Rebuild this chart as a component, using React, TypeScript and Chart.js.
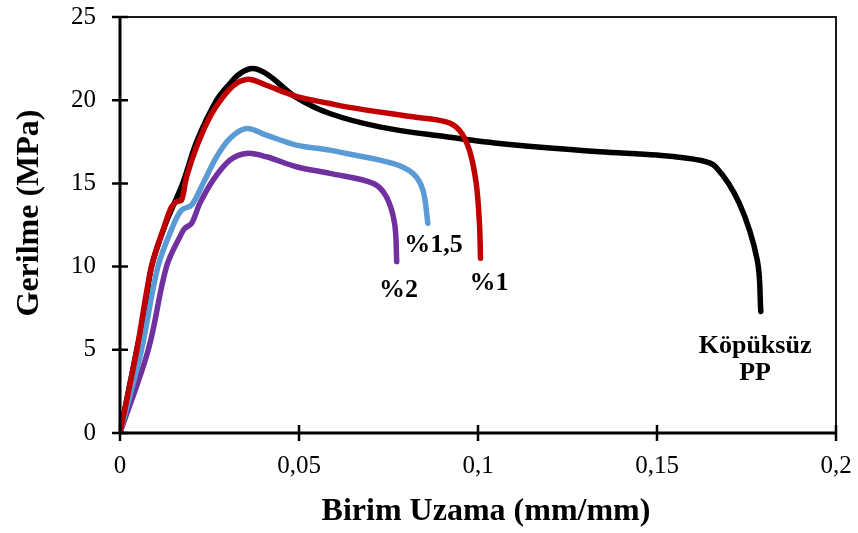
import { useEffect, useRef } from "react";
import { Chart, registerables } from "chart.js";

Chart.register(...registerables);

// ---- data (strain mm/mm, stress MPa) ----
const blackStrain = [0, 0.0047, 0.007, 0.0088, 0.0126, 0.0175, 0.0214, 0.027, 0.0307, 0.0335, 0.0372, 0.0415, 0.049, 0.0586, 0.0725, 0.0911, 0.106, 0.134, 0.15, 0.1618, 0.1664, 0.173, 0.178, 0.179];
const blackStress = [0, 5.0, 7.5, 10.0, 12.5, 15.0, 17.5, 20.0, 21.0, 21.6, 21.9, 21.5, 20.2, 19.2, 18.4, 17.8, 17.4, 16.9, 16.7, 16.4, 16.0, 13.8, 10.4, 7.3];

const redStrain = [0, 0.0047, 0.0088, 0.0125, 0.0144, 0.0158, 0.0172, 0.0186, 0.0214, 0.0251, 0.0288, 0.0325, 0.0363, 0.0409, 0.049, 0.0586, 0.0632, 0.0818, 0.0911, 0.0948, 0.0976, 0.0995, 0.1004, 0.1007];
const redStress = [0, 5.0, 10.0, 12.5, 13.6, 13.9, 14.0, 15.4, 17.2, 19.0, 20.2, 21.0, 21.25, 20.9, 20.25, 19.8, 19.6, 19.0, 18.7, 18.2, 17.0, 15.0, 12.6, 10.5];

const blueStrain = [0, 0.006, 0.0106, 0.0149, 0.0172, 0.02, 0.0232, 0.027, 0.0307, 0.0353, 0.0409, 0.0493, 0.0586, 0.0632, 0.0762, 0.0818, 0.0846, 0.086];
const blueStress = [0, 5.0, 10.0, 12.5, 13.4, 13.7, 15.0, 16.6, 17.7, 18.3, 17.9, 17.3, 17.0, 16.8, 16.2, 15.6, 14.6, 12.6];

const purpleStrain = [0, 0.0079, 0.013, 0.0172, 0.0181, 0.02, 0.0223, 0.026, 0.0307, 0.0353, 0.0409, 0.0493, 0.0586, 0.0707, 0.0744, 0.0767, 0.0773];
const purpleStress = [0, 5.0, 10.0, 12.0, 12.3, 12.6, 13.8, 15.2, 16.4, 16.8, 16.6, 16.0, 15.6, 15.0, 14.2, 12.6, 10.3];

const seriesNames = ["%1", "%1,5", "%2", "Köpüksüz PP"];

const xTickValues = [0, 0.05, 0.1, 0.15, 0.2];
const xTickLabels = ["0", "0,05", "0,1", "0,15", "0,2"];
const yTickValues = [0, 5, 10, 15, 20, 25];
const yTickLabels = ["0", "5", "10", "15", "20", "25"];

const xTitle = "Birim Uzama (mm/mm)";
const yTitle = "Gerilme (MPa)";

// curve annotations (text lines + anchor in data units)
const annoText = [["%1,5"], ["%2"], ["%1"], ["Köpüksüz", "PP"]];
const annoX = [0.0876, 0.0778, 0.1031, 0.1774];
const annoY = [11.3, 8.6, 9.0, 5.2];

const FONT = "'Liberation Serif', 'Times New Roman', serif";

function pts(xs: number[], ys: number[]) {
  return xs.map((x, i) => ({ x, y: ys[i] }));
}

const overlay = {
  id: "overlay",
  afterDraw(chart: any) {
    const ctx = chart.ctx;
    const { left, right, top, bottom } = chart.chartArea;
    const xs = chart.scales.x;
    const ys = chart.scales.y;
    ctx.save();
    // frame top/right
    ctx.strokeStyle = "#1a1a1a";
    ctx.lineWidth = 2;
    ctx.beginPath();
    ctx.moveTo(left, top);
    ctx.lineTo(right, top);
    ctx.lineTo(right, bottom);
    ctx.stroke();
    // axes
    ctx.strokeStyle = "#000";
    ctx.lineWidth = 3;
    ctx.beginPath();
    ctx.moveTo(left, top - 1);
    ctx.lineTo(left, bottom + 1.5);
    ctx.moveTo(left - 1.5, bottom);
    ctx.lineTo(right + 1, bottom);
    ctx.stroke();
    // ticks (cross)
    ctx.lineWidth = 2.5;
    ctx.beginPath();
    for (const v of xTickValues) {
      const px = xs.getPixelForValue(v);
      ctx.moveTo(px, bottom - 8);
      ctx.lineTo(px, bottom + 8);
    }
    for (const v of yTickValues) {
      const py = ys.getPixelForValue(v);
      ctx.moveTo(left - 8, py);
      ctx.lineTo(left + 8, py);
    }
    ctx.stroke();
    // annotations
    ctx.fillStyle = "#000";
    ctx.font = `bold 26px ${FONT}`;
    ctx.textAlign = "center";
    ctx.textBaseline = "middle";
    annoText.forEach((lines, i) => {
      const px = xs.getPixelForValue(annoX[i]);
      const py = ys.getPixelForValue(annoY[i]);
      lines.forEach((t, j) => ctx.fillText(t, px, py + j * 27));
    });
    // axis titles
    ctx.font = `bold 32px ${FONT}`;
    ctx.fillText(xTitle, 486, 512);
    ctx.translate(30, 213);
    ctx.rotate(-Math.PI / 2);
    ctx.fillText(yTitle, 0, 0);
    ctx.restore();
  },
};

export default function App() {
  const ref = useRef<HTMLCanvasElement | null>(null);
  useEffect(() => {
    if (!ref.current) return;
    const mk = (name: string, data: any, color: string) => ({
      label: name,
      data,
      borderColor: color,
      backgroundColor: color,
      borderWidth: 5.5,
      pointRadius: 0,
      fill: false,
      tension: 0.35,
      borderCapStyle: "round" as const,
      borderJoinStyle: "round" as const,
    });
    const chart = new Chart(ref.current, {
      type: "line",
      data: {
        datasets: [
          mk(seriesNames[0], pts(redStrain, redStress), "#C00000"),
          mk(seriesNames[1], pts(blueStrain, blueStress), "#5B9BD5"),
          mk(seriesNames[2], pts(purpleStrain, purpleStress), "#7030A0"),
          mk(seriesNames[3], pts(blackStrain, blackStress), "#000000"),
        ],
      },
      options: {
        animation: false,
        responsive: false,
        devicePixelRatio: 1,
        layout: { padding: { top: 17, right: 22, left: 0, bottom: 0 } },
        plugins: { legend: { display: false }, tooltip: { enabled: false } },
        scales: {
          x: {
            type: "linear",
            min: 0,
            max: 0.2,
            grid: { display: false, drawTicks: false },
            border: { display: false },
            afterBuildTicks: (s: any) => {
              s.ticks = xTickValues.map((v) => ({ value: v }));
            },
            afterFit: (s: any) => {
              s.height = 100;
              s.paddingLeft = 0;
              s.paddingRight = 0;
            },
            ticks: {
              color: "#000",
              font: { family: FONT, size: 25 },
              padding: 18,
              maxRotation: 0,
              autoSkip: false,
              callback: (_v: any, i: number) => xTickLabels[i],
            },
          },
          y: {
            type: "linear",
            min: 0,
            max: 25,
            grid: { display: false, drawTicks: false },
            border: { display: false },
            afterBuildTicks: (s: any) => {
              s.ticks = yTickValues.map((v) => ({ value: v }));
            },
            afterFit: (s: any) => {
              s.width = 120;
              s.paddingTop = 0;
              s.paddingBottom = 0;
            },
            ticks: {
              color: "#000",
              font: { family: FONT, size: 25 },
              padding: 24,
              autoSkip: false,
              callback: (_v: any, i: number) => yTickLabels[i],
            },
          },
        },
      },
      plugins: [overlay],
    });
    return () => chart.destroy();
  }, []);
  return (
    <div style={{ position: "absolute", left: 0, top: 0, width: 858, height: 533, background: "#fff" }}>
      <canvas ref={ref} width={858} height={533} style={{ width: 858, height: 533, display: "block" }} />
    </div>
  );
}
